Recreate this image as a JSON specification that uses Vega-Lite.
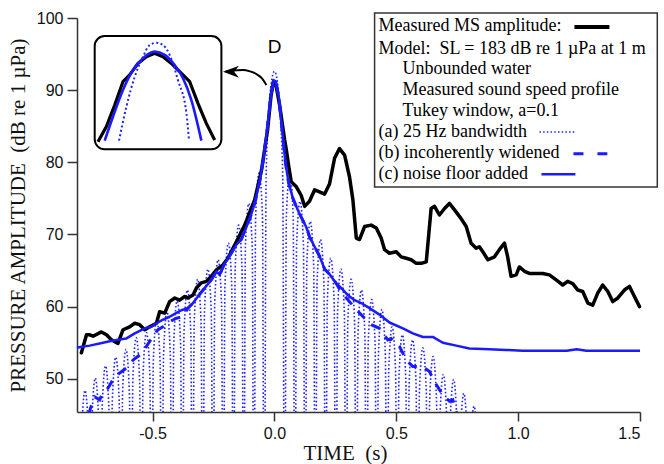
{
  "$schema": "https://vega.github.io/schema/vega-lite/v6.json",
  "width": 563,
  "height": 394,
  "autosize": {"type": "none"},
  "padding": {"left": 77, "top": 18, "right": 24, "bottom": 52},
  "background": "white",
  "config": {
    "view": {"stroke": null},
    "axis": {
      "grid": false,
      "domainColor": "#333333",
      "domainWidth": 1.5,
      "tickColor": "#333333",
      "tickWidth": 1.5,
      "tickSize": 9,
      "labelFont": "Liberation Sans",
      "labelFontSize": 16,
      "labelColor": "#111111",
      "titleFont": "Liberation Serif",
      "titleFontWeight": "normal",
      "titleFontSize": 21,
      "titleColor": "#111111"
    }
  },
  "datasets": {
    "measured": [
      {"t": -0.792, "dB": 53.6}, {"t": -0.771, "dB": 56.1}, {"t": -0.758, "dB": 56.1}, {"t": -0.744, "dB": 55.9},
      {"t": -0.710, "dB": 56.5}, {"t": -0.689, "dB": 56.1}, {"t": -0.669, "dB": 55.4}, {"t": -0.642, "dB": 54.9},
      {"t": -0.621, "dB": 56.8}, {"t": -0.594, "dB": 57.2}, {"t": -0.573, "dB": 57.7}, {"t": -0.553, "dB": 57.5},
      {"t": -0.532, "dB": 56.8}, {"t": -0.512, "dB": 57.2}, {"t": -0.484, "dB": 57.7}, {"t": -0.471, "dB": 59.3},
      {"t": -0.450, "dB": 59.1}, {"t": -0.430, "dB": 60.7}, {"t": -0.409, "dB": 61.2}, {"t": -0.389, "dB": 60.9},
      {"t": -0.368, "dB": 61.4}, {"t": -0.355, "dB": 61.2}, {"t": -0.334, "dB": 61.6}, {"t": -0.320, "dB": 62.6},
      {"t": -0.300, "dB": 63.3}, {"t": -0.279, "dB": 63.5}, {"t": -0.259, "dB": 64.2}, {"t": -0.238, "dB": 65.1},
      {"t": -0.211, "dB": 65.8}, {"t": -0.191, "dB": 66.7}, {"t": -0.170, "dB": 68.1}, {"t": -0.156, "dB": 69.0},
      {"t": -0.122, "dB": 71.3}, {"t": -0.081, "dB": 74.8}, {"t": -0.053, "dB": 78.9}, {"t": -0.028, "dB": 84.5},
      {"t": -0.014, "dB": 89.2}, {"t": -0.004, "dB": 91.2}, {"t": 0.006, "dB": 90.8}, {"t": 0.021, "dB": 88.0},
      {"t": 0.042, "dB": 83.1}, {"t": 0.049, "dB": 81.7}, {"t": 0.059, "dB": 79.4}, {"t": 0.069, "dB": 77.3},
      {"t": 0.090, "dB": 76.6}, {"t": 0.110, "dB": 75.4}, {"t": 0.124, "dB": 73.9}, {"t": 0.144, "dB": 74.6},
      {"t": 0.165, "dB": 76.2}, {"t": 0.185, "dB": 75.9}, {"t": 0.206, "dB": 75.6}, {"t": 0.226, "dB": 77.0},
      {"t": 0.247, "dB": 80.6}, {"t": 0.267, "dB": 81.9}, {"t": 0.288, "dB": 81.0}, {"t": 0.308, "dB": 78.0},
      {"t": 0.322, "dB": 74.8}, {"t": 0.336, "dB": 69.5}, {"t": 0.349, "dB": 69.3}, {"t": 0.370, "dB": 71.1},
      {"t": 0.397, "dB": 71.3}, {"t": 0.418, "dB": 70.9}, {"t": 0.438, "dB": 69.5}, {"t": 0.452, "dB": 67.9},
      {"t": 0.472, "dB": 67.4}, {"t": 0.500, "dB": 67.6}, {"t": 0.520, "dB": 66.9}, {"t": 0.541, "dB": 66.7},
      {"t": 0.561, "dB": 66.5}, {"t": 0.582, "dB": 66.0}, {"t": 0.602, "dB": 66.0}, {"t": 0.623, "dB": 66.2},
      {"t": 0.643, "dB": 73.6}, {"t": 0.657, "dB": 73.9}, {"t": 0.677, "dB": 72.7}, {"t": 0.698, "dB": 73.6},
      {"t": 0.718, "dB": 74.3}, {"t": 0.739, "dB": 73.4}, {"t": 0.766, "dB": 72.2}, {"t": 0.787, "dB": 71.1},
      {"t": 0.807, "dB": 68.8}, {"t": 0.828, "dB": 68.1}, {"t": 0.841, "dB": 68.3}, {"t": 0.855, "dB": 67.6},
      {"t": 0.876, "dB": 66.5}, {"t": 0.903, "dB": 66.9}, {"t": 0.923, "dB": 67.9}, {"t": 0.944, "dB": 68.8},
      {"t": 0.957, "dB": 66.9}, {"t": 0.971, "dB": 64.2}, {"t": 0.992, "dB": 64.4}, {"t": 1.005, "dB": 65.5},
      {"t": 1.026, "dB": 64.9}, {"t": 1.046, "dB": 64.6}, {"t": 1.074, "dB": 64.6}, {"t": 1.101, "dB": 64.6},
      {"t": 1.128, "dB": 64.4}, {"t": 1.156, "dB": 63.7}, {"t": 1.183, "dB": 63.0}, {"t": 1.203, "dB": 63.5},
      {"t": 1.224, "dB": 63.2}, {"t": 1.245, "dB": 62.3}, {"t": 1.265, "dB": 62.1}, {"t": 1.286, "dB": 60.5},
      {"t": 1.306, "dB": 60.2}, {"t": 1.327, "dB": 61.9}, {"t": 1.347, "dB": 63.0}, {"t": 1.368, "dB": 62.1},
      {"t": 1.388, "dB": 60.7}, {"t": 1.409, "dB": 61.2}, {"t": 1.436, "dB": 62.3}, {"t": 1.457, "dB": 62.8},
      {"t": 1.470, "dB": 61.9}, {"t": 1.498, "dB": 60.0}
    ],
    "noise": [
      {"t": -0.81, "dB": 54.3}, {"t": -0.796, "dB": 54.4}, {"t": -0.758, "dB": 54.6}, {"t": -0.703, "dB": 55.0},
      {"t": -0.676, "dB": 55.2}, {"t": -0.642, "dB": 55.4}, {"t": -0.607, "dB": 55.6}, {"t": -0.573, "dB": 56.3},
      {"t": -0.532, "dB": 57.0}, {"t": -0.505, "dB": 57.2}, {"t": -0.484, "dB": 57.7}, {"t": -0.457, "dB": 58.2},
      {"t": -0.430, "dB": 58.6}, {"t": -0.409, "dB": 59.0}, {"t": -0.382, "dB": 59.5}, {"t": -0.355, "dB": 59.8},
      {"t": -0.334, "dB": 60.5}, {"t": -0.314, "dB": 61.4}, {"t": -0.286, "dB": 62.6}, {"t": -0.259, "dB": 63.7},
      {"t": -0.238, "dB": 64.9}, {"t": -0.225, "dB": 64.4}, {"t": -0.204, "dB": 66.0}, {"t": -0.177, "dB": 67.4},
      {"t": -0.156, "dB": 68.6}, {"t": -0.136, "dB": 69.3}, {"t": -0.120, "dB": 70.6}, {"t": -0.100, "dB": 72.3},
      {"t": -0.080, "dB": 74.4}, {"t": -0.060, "dB": 77.4}, {"t": -0.045, "dB": 80.5}, {"t": -0.030, "dB": 84.5},
      {"t": -0.015, "dB": 89.0}, {"t": -0.004, "dB": 91.4}, {"t": 0.006, "dB": 91.2}, {"t": 0.018, "dB": 89.0},
      {"t": 0.030, "dB": 85.0}, {"t": 0.045, "dB": 80.0}, {"t": 0.058, "dB": 77.2}, {"t": 0.076, "dB": 75.0},
      {"t": 0.096, "dB": 73.4}, {"t": 0.110, "dB": 72.4}, {"t": 0.131, "dB": 71.0}, {"t": 0.144, "dB": 69.7},
      {"t": 0.165, "dB": 68.3}, {"t": 0.185, "dB": 67.0}, {"t": 0.206, "dB": 65.2}, {"t": 0.226, "dB": 64.5},
      {"t": 0.254, "dB": 63.2}, {"t": 0.274, "dB": 62.6}, {"t": 0.301, "dB": 61.6}, {"t": 0.329, "dB": 60.9},
      {"t": 0.356, "dB": 60.5}, {"t": 0.390, "dB": 59.8}, {"t": 0.431, "dB": 58.9}, {"t": 0.472, "dB": 57.8},
      {"t": 0.527, "dB": 57.0}, {"t": 0.568, "dB": 56.3}, {"t": 0.609, "dB": 55.8}, {"t": 0.650, "dB": 55.8},
      {"t": 0.691, "dB": 55.0}, {"t": 0.746, "dB": 54.6}, {"t": 0.800, "dB": 54.2}, {"t": 0.882, "dB": 54.1},
      {"t": 0.950, "dB": 54.0}, {"t": 1.020, "dB": 53.9}, {"t": 1.100, "dB": 53.9}, {"t": 1.200, "dB": 53.9},
      {"t": 1.240, "dB": 54.1}, {"t": 1.280, "dB": 53.9}, {"t": 1.400, "dB": 53.9}, {"t": 1.500, "dB": 53.9}
    ],
    "incoh": [
      {"t": -0.762, "dB": 45.0}, {"t": -0.755, "dB": 45.9}, {"t": -0.737, "dB": 47.5}, {"t": -0.717, "dB": 47.1},
      {"t": -0.703, "dB": 48.2}, {"t": -0.683, "dB": 48.7}, {"t": -0.655, "dB": 50.3}, {"t": -0.635, "dB": 50.8},
      {"t": -0.607, "dB": 51.5}, {"t": -0.580, "dB": 52.6}, {"t": -0.553, "dB": 53.3}, {"t": -0.525, "dB": 54.5},
      {"t": -0.498, "dB": 55.9}, {"t": -0.478, "dB": 56.8}, {"t": -0.457, "dB": 57.2}, {"t": -0.430, "dB": 57.9},
      {"t": -0.402, "dB": 58.4}, {"t": -0.375, "dB": 58.6}, {"t": -0.355, "dB": 59.8}, {"t": -0.334, "dB": 60.5},
      {"t": -0.314, "dB": 61.4}, {"t": -0.286, "dB": 62.6}, {"t": -0.259, "dB": 63.7}, {"t": -0.238, "dB": 64.9},
      {"t": -0.225, "dB": 64.4}, {"t": -0.204, "dB": 66.0}, {"t": -0.177, "dB": 67.4}, {"t": -0.156, "dB": 68.6},
      {"t": -0.136, "dB": 69.3}, {"t": -0.120, "dB": 70.6}, {"t": -0.100, "dB": 72.3}, {"t": -0.080, "dB": 74.4},
      {"t": -0.060, "dB": 77.4}, {"t": -0.045, "dB": 80.5}, {"t": -0.030, "dB": 84.5}, {"t": -0.015, "dB": 89.0},
      {"t": -0.004, "dB": 91.4}, {"t": 0.006, "dB": 91.2}, {"t": 0.018, "dB": 89.0}, {"t": 0.030, "dB": 85.0},
      {"t": 0.045, "dB": 80.0}, {"t": 0.058, "dB": 77.2}, {"t": 0.076, "dB": 75.0}, {"t": 0.096, "dB": 73.4},
      {"t": 0.110, "dB": 72.4}, {"t": 0.131, "dB": 71.0}, {"t": 0.144, "dB": 69.7}, {"t": 0.165, "dB": 68.3},
      {"t": 0.185, "dB": 67.0}, {"t": 0.206, "dB": 65.2}, {"t": 0.226, "dB": 64.5}, {"t": 0.254, "dB": 63.2},
      {"t": 0.274, "dB": 62.0}, {"t": 0.295, "dB": 61.2}, {"t": 0.336, "dB": 59.6}, {"t": 0.370, "dB": 58.4},
      {"t": 0.397, "dB": 57.5}, {"t": 0.431, "dB": 57.0}, {"t": 0.465, "dB": 55.4}, {"t": 0.479, "dB": 55.6},
      {"t": 0.513, "dB": 54.5}, {"t": 0.541, "dB": 52.6}, {"t": 0.568, "dB": 51.7}, {"t": 0.609, "dB": 51.7},
      {"t": 0.636, "dB": 51.0}, {"t": 0.657, "dB": 49.6}, {"t": 0.677, "dB": 48.5}, {"t": 0.698, "dB": 47.5},
      {"t": 0.718, "dB": 46.9}, {"t": 0.732, "dB": 47.1}, {"t": 0.750, "dB": 45.0}
    ],
    "bw25": [
      {"t": -0.840, "dB": 20}, {"t": -0.833, "dB": 41.0}, {"t": -0.819, "dB": 47.0}, {"t": -0.805, "dB": 41.0},
      {"t": -0.798, "dB": 20}, {"t": -0.791, "dB": 42.4}, {"t": -0.777, "dB": 48.4}, {"t": -0.763, "dB": 42.4},
      {"t": -0.756, "dB": 20}, {"t": -0.749, "dB": 44.1}, {"t": -0.735, "dB": 50.1}, {"t": -0.721, "dB": 44.1},
      {"t": -0.714, "dB": 20}, {"t": -0.707, "dB": 45.8}, {"t": -0.693, "dB": 51.8}, {"t": -0.679, "dB": 45.8},
      {"t": -0.672, "dB": 20}, {"t": -0.665, "dB": 47.0}, {"t": -0.651, "dB": 53.0}, {"t": -0.637, "dB": 47.0},
      {"t": -0.630, "dB": 20}, {"t": -0.623, "dB": 48.1}, {"t": -0.609, "dB": 54.1}, {"t": -0.595, "dB": 48.1},
      {"t": -0.588, "dB": 20}, {"t": -0.581, "dB": 49.7}, {"t": -0.567, "dB": 55.7}, {"t": -0.553, "dB": 49.7},
      {"t": -0.546, "dB": 20}, {"t": -0.539, "dB": 50.4}, {"t": -0.525, "dB": 56.4}, {"t": -0.511, "dB": 50.4},
      {"t": -0.504, "dB": 20}, {"t": -0.497, "dB": 52.3}, {"t": -0.483, "dB": 58.3}, {"t": -0.469, "dB": 52.3},
      {"t": -0.462, "dB": 20}, {"t": -0.455, "dB": 53.3}, {"t": -0.441, "dB": 59.3}, {"t": -0.427, "dB": 53.3},
      {"t": -0.420, "dB": 20}, {"t": -0.413, "dB": 54.8}, {"t": -0.399, "dB": 60.8}, {"t": -0.385, "dB": 54.8},
      {"t": -0.378, "dB": 20}, {"t": -0.371, "dB": 56.3}, {"t": -0.357, "dB": 62.3}, {"t": -0.343, "dB": 56.3},
      {"t": -0.336, "dB": 20}, {"t": -0.329, "dB": 57.8}, {"t": -0.315, "dB": 63.8}, {"t": -0.301, "dB": 57.8},
      {"t": -0.294, "dB": 20}, {"t": -0.287, "dB": 59.2}, {"t": -0.273, "dB": 65.2}, {"t": -0.259, "dB": 59.2},
      {"t": -0.252, "dB": 20}, {"t": -0.245, "dB": 60.5}, {"t": -0.231, "dB": 66.5}, {"t": -0.217, "dB": 60.5},
      {"t": -0.210, "dB": 20}, {"t": -0.203, "dB": 62.8}, {"t": -0.189, "dB": 68.8}, {"t": -0.175, "dB": 62.8},
      {"t": -0.168, "dB": 20}, {"t": -0.161, "dB": 65.3}, {"t": -0.147, "dB": 71.3}, {"t": -0.133, "dB": 65.3},
      {"t": -0.126, "dB": 20}, {"t": -0.119, "dB": 68.3}, {"t": -0.105, "dB": 74.3}, {"t": -0.091, "dB": 68.3},
      {"t": -0.084, "dB": 20}, {"t": -0.077, "dB": 72.5}, {"t": -0.063, "dB": 78.5}, {"t": -0.049, "dB": 72.5},
      {"t": -0.042, "dB": 20}, {"t": -0.034, "dB": 78.0}, {"t": -0.025, "dB": 86.0}, {"t": -0.012, "dB": 91.2},
      {"t": 0.000, "dB": 92.6}, {"t": 0.012, "dB": 91.2}, {"t": 0.025, "dB": 86.0}, {"t": 0.034, "dB": 78.0},
      {"t": 0.042, "dB": 20}, {"t": 0.049, "dB": 72.5}, {"t": 0.063, "dB": 78.5}, {"t": 0.077, "dB": 72.5},
      {"t": 0.084, "dB": 20}, {"t": 0.091, "dB": 68.6}, {"t": 0.105, "dB": 74.6}, {"t": 0.119, "dB": 68.6},
      {"t": 0.126, "dB": 20}, {"t": 0.133, "dB": 65.8}, {"t": 0.147, "dB": 71.8}, {"t": 0.161, "dB": 65.8},
      {"t": 0.168, "dB": 20}, {"t": 0.175, "dB": 63.3}, {"t": 0.189, "dB": 69.3}, {"t": 0.203, "dB": 63.3},
      {"t": 0.210, "dB": 20}, {"t": 0.217, "dB": 60.7}, {"t": 0.231, "dB": 66.7}, {"t": 0.245, "dB": 60.7},
      {"t": 0.252, "dB": 20}, {"t": 0.259, "dB": 59.2}, {"t": 0.273, "dB": 65.2}, {"t": 0.287, "dB": 59.2},
      {"t": 0.294, "dB": 20}, {"t": 0.301, "dB": 57.8}, {"t": 0.315, "dB": 63.8}, {"t": 0.329, "dB": 57.8},
      {"t": 0.336, "dB": 20}, {"t": 0.343, "dB": 56.3}, {"t": 0.357, "dB": 62.3}, {"t": 0.371, "dB": 56.3},
      {"t": 0.378, "dB": 20}, {"t": 0.385, "dB": 55.0}, {"t": 0.399, "dB": 61.0}, {"t": 0.413, "dB": 55.0},
      {"t": 0.420, "dB": 20}, {"t": 0.427, "dB": 53.6}, {"t": 0.441, "dB": 59.6}, {"t": 0.455, "dB": 53.6},
      {"t": 0.462, "dB": 20}, {"t": 0.469, "dB": 51.2}, {"t": 0.483, "dB": 57.2}, {"t": 0.497, "dB": 51.2},
      {"t": 0.504, "dB": 20}, {"t": 0.511, "dB": 50.1}, {"t": 0.525, "dB": 56.1}, {"t": 0.539, "dB": 50.1},
      {"t": 0.546, "dB": 20}, {"t": 0.553, "dB": 49.4}, {"t": 0.567, "dB": 55.4}, {"t": 0.581, "dB": 49.4},
      {"t": 0.588, "dB": 20}, {"t": 0.595, "dB": 48.3}, {"t": 0.609, "dB": 54.3}, {"t": 0.623, "dB": 48.3},
      {"t": 0.630, "dB": 20}, {"t": 0.637, "dB": 47.1}, {"t": 0.651, "dB": 53.1}, {"t": 0.665, "dB": 47.1},
      {"t": 0.672, "dB": 20}, {"t": 0.679, "dB": 44.6}, {"t": 0.693, "dB": 50.6}, {"t": 0.707, "dB": 44.6},
      {"t": 0.714, "dB": 20}, {"t": 0.721, "dB": 43.9}, {"t": 0.735, "dB": 49.9}, {"t": 0.749, "dB": 43.9},
      {"t": 0.756, "dB": 20}, {"t": 0.763, "dB": 42.0}, {"t": 0.777, "dB": 48.0}, {"t": 0.791, "dB": 42.0},
      {"t": 0.798, "dB": 20}, {"t": 0.805, "dB": 40.2}, {"t": 0.819, "dB": 46.2}, {"t": 0.833, "dB": 40.2},
      {"t": 0.840, "dB": 20}
    ],
    "legendBox": [{"t": 0.411, "t2": 1.571, "dB": 100.69, "dB2": 76.59}],
    "legendText": [
      {"t": 0.427, "dB": 98.85, "label": "Measured MS amplitude:"},
      {"t": 0.427, "dB": 95.75, "label": "Model:\u00a0 SL = 183 dB re 1 µPa at 1 m"},
      {"t": 0.526, "dB": 92.95, "label": "Unbounded water"},
      {"t": 0.526, "dB": 90.05, "label": "Measured sound speed profile"},
      {"t": 0.526, "dB": 87.15, "label": "Tukey window, a=0.1"},
      {"t": 0.427, "dB": 84.25, "label": "(a) 25 Hz bandwidth"},
      {"t": 0.427, "dB": 81.35, "label": "(b) incoherently widened"},
      {"t": 0.427, "dB": 78.45, "label": "(c) noise floor added"}
    ],
    "samples": [
      {"s": "measured", "t": 1.231, "dB": 98.75}, {"s": "measured", "t": 1.3745, "dB": 98.75},
      {"s": "bw25", "t": 1.0875, "dB": 84.2}, {"s": "bw25", "t": 1.231, "dB": 84.2},
      {"s": "incoh", "t": 1.227, "dB": 81.2}, {"s": "incoh", "t": 1.366, "dB": 81.2},
      {"s": "noise", "t": 1.0957, "dB": 78.35}, {"s": "noise", "t": 1.235, "dB": 78.35}
    ],
    "arrow": [
      {"t": -0.200, "dB": 92.6}, {"t": -0.175, "dB": 92.72}, {"t": -0.129, "dB": 92.8},
      {"t": -0.100, "dB": 92.6}, {"t": -0.074, "dB": 92.24}, {"t": -0.050, "dB": 91.6}, {"t": -0.033, "dB": 90.72}
    ],
    "arrowTip": [{"t": -0.211, "dB": 92.56}],
    "peakLabel": [{"t": 0.001, "dB": 96.0, "label": "D"}],
    "insetBox": [{"it": -0.05, "it2": 0.05, "idB": 87, "idB2": 92.5}],
    "insetMeasured": [
      {"it": -0.0474, "idB": 87.37}, {"it": -0.0408, "idB": 88.10}, {"it": -0.0342, "idB": 89.15},
      {"it": -0.0277, "idB": 90.28}, {"it": -0.0224, "idB": 90.61}, {"it": -0.0158, "idB": 91.17},
      {"it": -0.0092, "idB": 91.49}, {"it": -0.0027, "idB": 91.66}, {"it": 0.0039, "idB": 91.49},
      {"it": 0.0105, "idB": 91.17}, {"it": 0.0171, "idB": 90.77}, {"it": 0.0250, "idB": 90.28},
      {"it": 0.0315, "idB": 89.23}, {"it": 0.0381, "idB": 88.26}, {"it": 0.0447, "idB": 87.45}
    ],
    "insetNoise": [
      {"it": -0.0421, "idB": 87.42}, {"it": -0.0356, "idB": 88.58}, {"it": -0.0277, "idB": 89.88},
      {"it": -0.0198, "idB": 90.85}, {"it": -0.0119, "idB": 91.42}, {"it": -0.0027, "idB": 91.74},
      {"it": 0.0052, "idB": 91.58}, {"it": 0.0131, "idB": 91.09}, {"it": 0.0197, "idB": 90.45},
      {"it": 0.0263, "idB": 89.39}, {"it": 0.0342, "idB": 87.42}
    ],
    "insetBw25": [
      {"it": -0.0308, "idB": 87.42}, {"it": -0.0250, "idB": 89.07}, {"it": -0.0184, "idB": 90.52},
      {"it": -0.0119, "idB": 91.49}, {"it": -0.0066, "idB": 92.06}, {"it": -0.0013, "idB": 92.17},
      {"it": 0.0039, "idB": 92.06}, {"it": 0.0092, "idB": 91.58}, {"it": 0.0157, "idB": 90.36},
      {"it": 0.0224, "idB": 88.75}, {"it": 0.0244, "idB": 87.45}
    ]
  },
  "layer": [
    {
      "layer": [
        {
          "data": {"name": "bw25"},
          "mark": {"type": "line", "color": "#2222ff", "strokeWidth": 1.6, "strokeDash": [1.6, 2.2], "interpolate": "monotone", "clip": true},
          "encoding": {
            "x": {
              "field": "t", "type": "quantitative",
              "scale": {"domain": [-0.81, 1.5], "nice": false, "zero": false},
              "axis": {
                "title": "TIME\u00a0 (s)",
                "values": [-0.5, 0, 0.5, 1, 1.5],
                "labelExpr": "datum.value < 0 ? '-' + format(-datum.value, '.1f') : format(datum.value, '.1f')",
                "labelPadding": 4,
                "titlePadding": 1,
                "titleX": 268,
                "titleAlign": "center"
              }
            },
            "y": {
              "field": "dB", "type": "quantitative",
              "scale": {"domain": [45.4, 100], "nice": false, "zero": false},
              "axis": {
                "title": "PRESSURE AMPLITUDE\u00a0 (dB re 1 µPa)",
                "values": [50, 60, 70, 80, 90, 100],
                "tickSize": 10,
                "labelPadding": 4,
                "titlePadding": 8
              }
            }
          }
        },
        {
          "data": {"name": "measured"},
          "mark": {"type": "line", "color": "#000000", "strokeWidth": 3.5, "strokeJoin": "round", "strokeCap": "round"},
          "encoding": {"x": {"field": "t", "type": "quantitative"}, "y": {"field": "dB", "type": "quantitative"}}
        },
        {
          "data": {"name": "incoh"},
          "mark": {"type": "line", "color": "#1a1aff", "strokeWidth": 3, "strokeDash": [10, 9], "clip": true},
          "encoding": {"x": {"field": "t", "type": "quantitative"}, "y": {"field": "dB", "type": "quantitative"}}
        },
        {
          "data": {"name": "noise"},
          "mark": {"type": "line", "color": "#1a1aff", "strokeWidth": 2.5, "strokeJoin": "round"},
          "encoding": {"x": {"field": "t", "type": "quantitative"}, "y": {"field": "dB", "type": "quantitative"}}
        },
        {
          "data": {"name": "legendBox"},
          "mark": {"type": "rect", "fill": "white", "stroke": "#333333", "strokeWidth": 1.5},
          "encoding": {
            "x": {"field": "t", "type": "quantitative"}, "x2": {"field": "t2"},
            "y": {"field": "dB", "type": "quantitative"}, "y2": {"field": "dB2"}
          }
        },
        {
          "data": {"name": "legendText"},
          "mark": {"type": "text", "align": "left", "baseline": "middle", "font": "Liberation Serif", "fontSize": 18, "color": "#000000"},
          "encoding": {
            "x": {"field": "t", "type": "quantitative"},
            "y": {"field": "dB", "type": "quantitative"},
            "text": {"field": "label"}
          }
        },
        {
          "data": {"name": "samples"},
          "transform": [{"filter": "datum.s === 'measured'"}],
          "mark": {"type": "line", "color": "#000000", "strokeWidth": 4},
          "encoding": {"x": {"field": "t", "type": "quantitative"}, "y": {"field": "dB", "type": "quantitative"}}
        },
        {
          "data": {"name": "samples"},
          "transform": [{"filter": "datum.s === 'bw25'"}],
          "mark": {"type": "line", "color": "#2222ff", "strokeWidth": 1.5, "strokeDash": [1.5, 2.2]},
          "encoding": {"x": {"field": "t", "type": "quantitative"}, "y": {"field": "dB", "type": "quantitative"}}
        },
        {
          "data": {"name": "samples"},
          "transform": [{"filter": "datum.s === 'incoh'"}],
          "mark": {"type": "line", "color": "#1a1aff", "strokeWidth": 3, "strokeDash": [10, 14]},
          "encoding": {"x": {"field": "t", "type": "quantitative"}, "y": {"field": "dB", "type": "quantitative"}}
        },
        {
          "data": {"name": "samples"},
          "transform": [{"filter": "datum.s === 'noise'"}],
          "mark": {"type": "line", "color": "#1a1aff", "strokeWidth": 2.5},
          "encoding": {"x": {"field": "t", "type": "quantitative"}, "y": {"field": "dB", "type": "quantitative"}}
        },
        {
          "data": {"name": "arrow"},
          "mark": {"type": "line", "color": "#000000", "strokeWidth": 2, "interpolate": "monotone"},
          "encoding": {"x": {"field": "t", "type": "quantitative"}, "y": {"field": "dB", "type": "quantitative"}}
        },
        {
          "data": {"name": "arrowTip"},
          "mark": {"type": "point", "shape": "M0,0L2,-0.75L1.4,0L2,0.75Z", "size": 256, "filled": true, "color": "#000000", "opacity": 1},
          "encoding": {"x": {"field": "t", "type": "quantitative"}, "y": {"field": "dB", "type": "quantitative"}}
        },
        {
          "data": {"name": "peakLabel"},
          "mark": {"type": "text", "align": "center", "baseline": "middle", "font": "Liberation Sans", "fontSize": 19, "color": "#000000"},
          "encoding": {
            "x": {"field": "t", "type": "quantitative"},
            "y": {"field": "dB", "type": "quantitative"},
            "text": {"field": "label"}
          }
        }
      ]
    },
    {
      "layer": [
        {
          "data": {"name": "insetBox"},
          "mark": {"type": "rect", "fill": "white", "stroke": "#000000", "strokeWidth": 2, "cornerRadius": 10},
          "encoding": {
            "x": {"field": "it", "type": "quantitative", "scale": {"domain": [-0.05, 0.05], "range": [17.7, 144.4], "nice": false, "zero": false}, "axis": null},
            "x2": {"field": "it2"},
            "y": {"field": "idB", "type": "quantitative", "scale": {"domain": [87, 92.5], "range": [131.3, 18], "nice": false, "zero": false}, "axis": null},
            "y2": {"field": "idB2"}
          }
        },
        {
          "data": {"name": "insetMeasured"},
          "mark": {"type": "line", "color": "#000000", "strokeWidth": 3.2, "strokeJoin": "round"},
          "encoding": {"x": {"field": "it", "type": "quantitative"}, "y": {"field": "idB", "type": "quantitative"}}
        },
        {
          "data": {"name": "insetNoise"},
          "mark": {"type": "line", "color": "#1a1aff", "strokeWidth": 2.6, "interpolate": "monotone"},
          "encoding": {"x": {"field": "it", "type": "quantitative"}, "y": {"field": "idB", "type": "quantitative"}}
        },
        {
          "data": {"name": "insetBw25"},
          "mark": {"type": "line", "color": "#2222ff", "strokeWidth": 2, "strokeDash": [2, 2.5], "interpolate": "monotone"},
          "encoding": {"x": {"field": "it", "type": "quantitative"}, "y": {"field": "idB", "type": "quantitative"}}
        }
      ]
    }
  ],
  "resolve": {"scale": {"x": "independent", "y": "independent"}}
}
